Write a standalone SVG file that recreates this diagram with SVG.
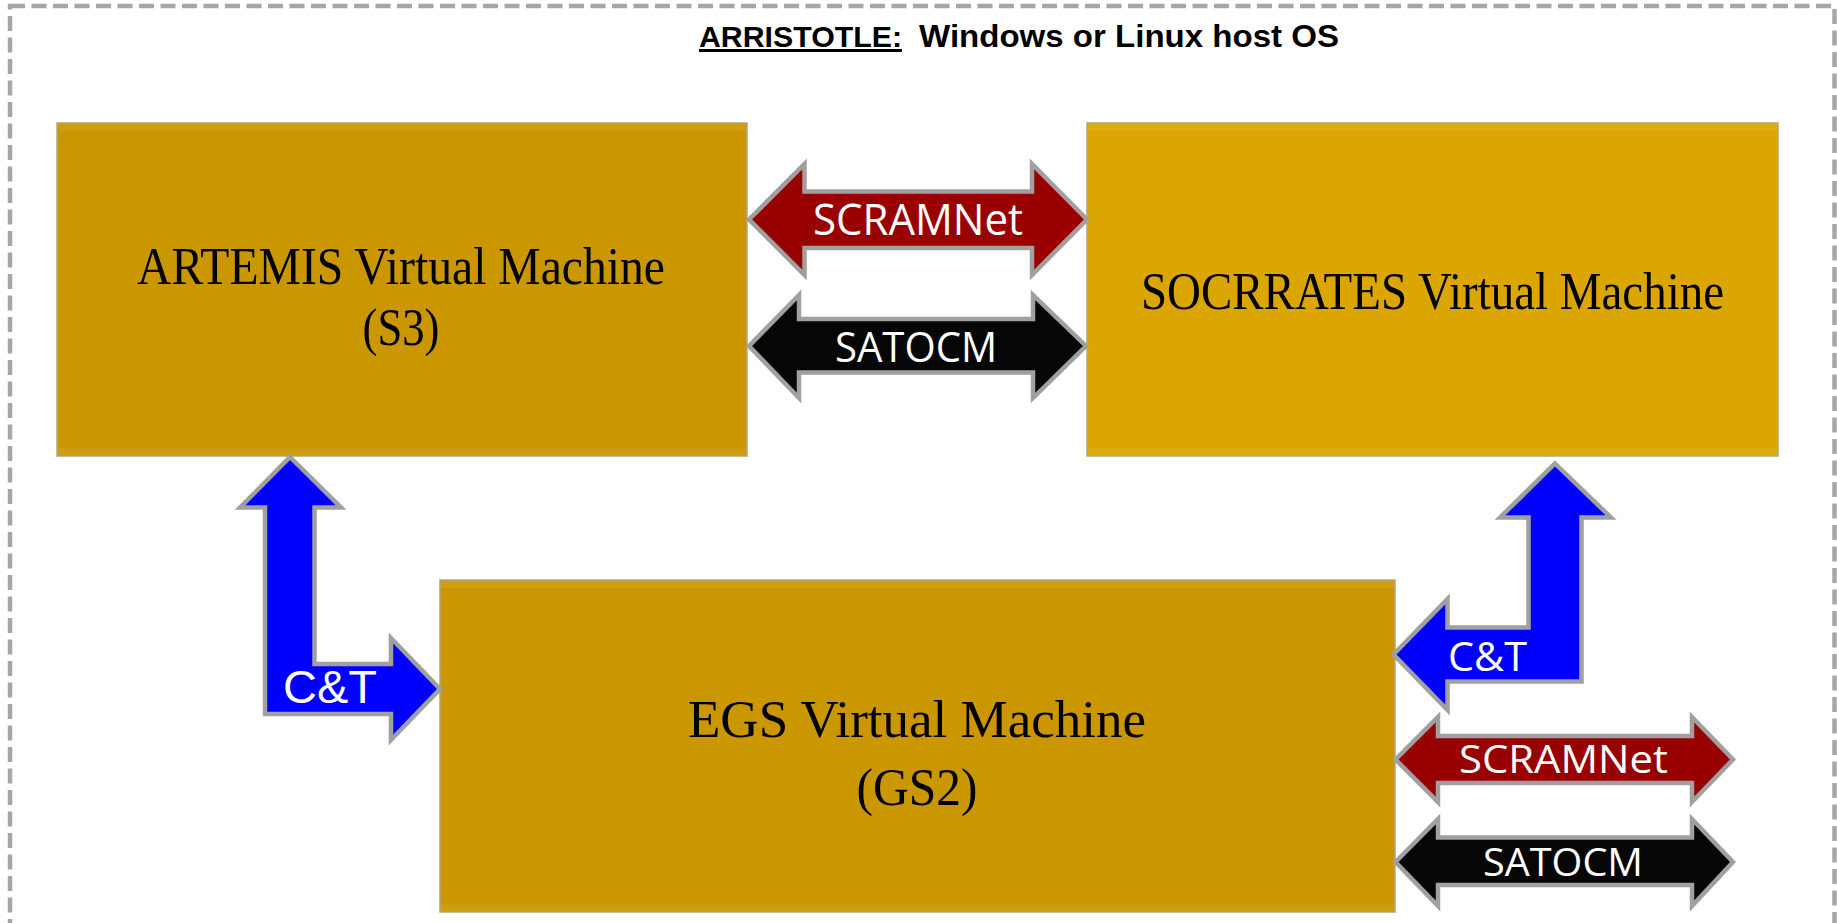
<svg xmlns="http://www.w3.org/2000/svg" width="1837" height="923" viewBox="0 0 1837 923">
  <style>
    .frame { fill: none; stroke: #A6A6A6; stroke-width: 4.5; stroke-dasharray: 15 6.5; }
    .title { font-family: "Liberation Sans", Arial, sans-serif; font-weight: bold; fill: #000; }
    .box { stroke: #B5A678; stroke-width: 1.5; }
    .dark { fill: #CB9700; }
    .light { fill: #DBA602; }
    .bevel { fill: #FFFFFF; opacity: 0.07; }
    .boxlabel { font-family: "Liberation Serif", "Times New Roman", serif; font-size: 52px; fill: #000; text-anchor: middle; }
    .arrow { stroke: #A0A0A0; stroke-width: 4.5; stroke-linejoin: miter; }
    .red { fill: #990000; }
    .black { fill: #060606; }
    .blue { fill: #0000FF; }
    .alabel { font-family: "Open Sans", "Noto Sans", sans-serif; fill: #FFFFFF; text-anchor: middle; }
    .ct { font-family: "Liberation Sans", Arial, sans-serif; fill: #FFFFFF; }
  </style>

  <rect width="1837" height="923" fill="#FFFFFF"/>

  <g id="host">
    <rect class="frame" x="10" y="6" width="1824.5" height="940"/>
    <text class="title" x="699" y="47" font-size="30" textLength="203" lengthAdjust="spacingAndGlyphs" text-decoration="underline">ARRISTOTLE:</text>
    <text class="title" x="919" y="47" font-size="31" textLength="420" lengthAdjust="spacingAndGlyphs">Windows or Linux host OS</text>
  </g>

  <g id="artemis">
    <rect class="box dark" x="57" y="123" width="690" height="333"/>
    <rect class="bevel" x="58" y="124" width="688" height="7"/>
    <rect class="bevel" x="58" y="448" width="688" height="7"/>
    <text class="boxlabel" x="401" y="284" textLength="528" lengthAdjust="spacingAndGlyphs">ARTEMIS Virtual Machine</text>
    <text class="boxlabel" x="401" y="345" textLength="77" lengthAdjust="spacingAndGlyphs">(S3)</text>
  </g>

  <g id="socrrates">
    <rect class="box light" x="1087" y="123" width="691" height="333"/>
    <rect class="bevel" x="1088" y="124" width="689" height="7"/>
    <rect class="bevel" x="1088" y="448" width="689" height="7"/>
    <text class="boxlabel" x="1432.5" y="309" textLength="583" lengthAdjust="spacingAndGlyphs">SOCRRATES Virtual Machine</text>
  </g>

  <g id="egs">
    <rect class="box dark" x="440" y="580" width="955" height="332"/>
    <rect class="bevel" x="441" y="581" width="953" height="7"/>
    <rect class="bevel" x="441" y="904" width="953" height="7"/>
    <text class="boxlabel" x="917" y="737" textLength="458" lengthAdjust="spacingAndGlyphs">EGS Virtual Machine</text>
    <text class="boxlabel" x="917" y="805" textLength="121" lengthAdjust="spacingAndGlyphs">(GS2)</text>
  </g>

  <g id="connectors">
    <g id="scramnet-top">
      <path class="arrow red" d="M749,219.5 L804.5,164 L804.5,191.5 L1032,191.5 L1032,164 L1087,219.5 L1032,275 L1032,248 L804.5,248 L804.5,275 Z"/>
      <text class="alabel" x="918" y="235" font-size="43" textLength="210" lengthAdjust="spacingAndGlyphs">SCRAMNet</text>
    </g>
    <g id="satocm-top">
      <path class="arrow black" d="M749,346 L799,295 L799,319 L1033,319 L1033,295 L1086,346 L1033,398 L1033,372.5 L799,372.5 L799,398 Z"/>
      <text class="alabel" x="916" y="362" font-size="42" textLength="162" lengthAdjust="spacingAndGlyphs">SATOCM</text>
    </g>
    <g id="ct-left">
      <path class="arrow blue" d="M290,457 L341,507.5 L314.5,507.5 L314.5,664 L391,664 L391,638 L440,689 L391,740 L391,714 L265,714 L265,507.5 L240,507.5 Z"/>
      <text class="ct" x="283" y="703" font-size="46" textLength="94" lengthAdjust="spacingAndGlyphs">C&amp;T</text>
    </g>
    <g id="ct-right">
      <path class="arrow blue" d="M1555,463.5 L1611,517.5 L1581.5,517.5 L1581.5,681.5 L1447.5,681.5 L1447.5,710 L1393.5,654.5 L1447.5,599 L1447.5,627.5 L1528.5,627.5 L1528.5,517.5 L1500,517.5 Z"/>
      <text class="alabel" x="1487.5" y="671" font-size="41" textLength="79" lengthAdjust="spacingAndGlyphs">C&amp;T</text>
    </g>
    <g id="scramnet-bottom">
      <path class="arrow red" d="M1395.5,759.5 L1438,717 L1438,736 L1692,736 L1692,717 L1733,759.5 L1692,802 L1692,783 L1438,783 L1438,802 Z"/>
      <text class="alabel" x="1563.5" y="773" font-size="39" textLength="209" lengthAdjust="spacingAndGlyphs">SCRAMNet</text>
    </g>
    <g id="satocm-bottom">
      <path class="arrow black" d="M1395.5,862 L1438,819 L1438,837.5 L1692,837.5 L1692,819 L1733,862 L1692,906 L1692,885 L1438,885 L1438,906 Z"/>
      <text class="alabel" x="1563" y="876" font-size="38" textLength="160" lengthAdjust="spacingAndGlyphs">SATOCM</text>
    </g>
  </g>
</svg>
